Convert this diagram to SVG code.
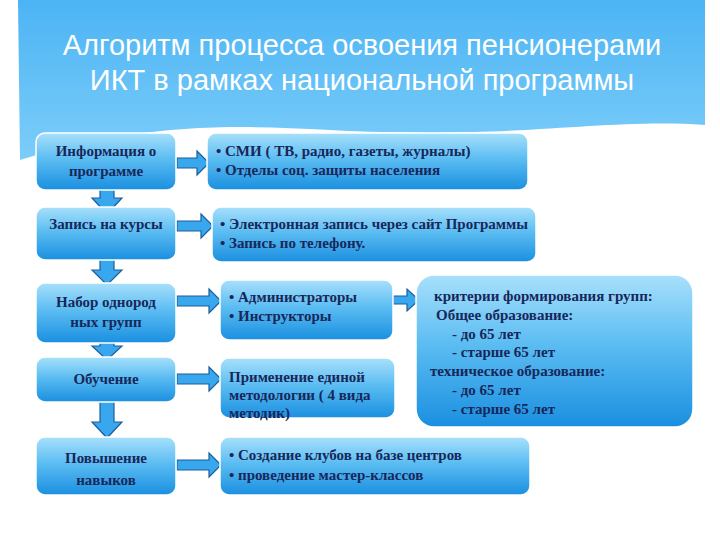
<svg xmlns="http://www.w3.org/2000/svg" width="720" height="540" viewBox="0 0 720 540">
<defs>
<linearGradient id="bg" x1="0" y1="0" x2="0" y2="1"><stop offset="0" stop-color="#a8e0fb"/><stop offset="0.45" stop-color="#5cbdf2"/><stop offset="1" stop-color="#1a8fe0"/></linearGradient>
<linearGradient id="tb" x1="0" y1="0" x2="0" y2="1"><stop offset="0" stop-color="#4cb4f4"/><stop offset="1" stop-color="#7ccdf9"/></linearGradient>
<style>
.box{fill:url(#bg);stroke:#ffffff;stroke-width:1.5}
.t{font-family:"Liberation Serif",serif;font-weight:bold;fill:#17275a;font-size:15px}
.ar{fill:#39a7ee;stroke:#1b5f9a;stroke-width:1.2}
.ti{font-family:"Liberation Sans",sans-serif;fill:#ffffff;font-size:29px;text-anchor:middle}
</style>
</defs>
<rect width="720" height="540" fill="#ffffff"/>
<path d="M18 0 H705 V125 C600 118 520 140 330 130 C200 122 120 130 20 160 Z" fill="url(#tb)"/>
<text class="ti" x="362" y="55">Алгоритм процесса  освоения пенсионерами</text>
<text class="ti" x="362" y="90">ИКТ в рамках  национальной  программы</text>
<g id="connectors">
<path class="ar" d="M100 189 H114 V198 H122 L107 214 L92 198 H100 Z"/>
<path class="ar" d="M100 259 H114 V270 H122 L107 285 L92 270 H100 Z"/>
<path class="ar" d="M100 338 H114 V346 H122 L107 360 L92 346 H100 Z"/>
<path class="ar" d="M100 400 H114 V422 H122 L107 438 L92 422 H100 Z"/>
<path class="ar" d="M177 158 H197 V151 L209 163 L197 175 V168 H177 Z"/>
<path class="ar" d="M177 221 H201 V214 L213 226 L201 238 V231 H177 Z"/>
<path class="ar" d="M177 296 H209 V289 L221 301 L209 313 V306 H177 Z"/>
<path class="ar" d="M177 374 H209 V367 L221 379 L209 391 V384 H177 Z"/>
<path class="ar" d="M177 460 H209 V453 L221 465 L209 477 V470 H177 Z"/>
<path class="ar" d="M393 296 H407 V289 L419 300 L407 311 V304 H393 Z"/>
</g>
<g id="n1"><rect class="box" x="36" y="133" width="140" height="57" rx="9"/>
<text class="t" x="106" y="156" text-anchor="middle">Информация о</text><text class="t" x="106" y="176" text-anchor="middle">программе</text></g>
<g id="n2"><rect class="box" x="36" y="207" width="140" height="53" rx="9"/>
<text class="t" x="106" y="229" text-anchor="middle">Запись на курсы</text></g>
<g id="n3"><rect class="box" x="36" y="283" width="140" height="60" rx="9"/>
<text class="t" x="106" y="307" text-anchor="middle">Набор однород</text><text class="t" x="106" y="327" text-anchor="middle">ных групп</text></g>
<g id="n4"><rect class="box" x="36" y="357" width="140" height="45" rx="9"/>
<text class="t" x="106" y="384" text-anchor="middle">Обучение</text></g>
<g id="n5"><rect class="box" x="36" y="437" width="140" height="58" rx="9"/>
<text class="t" x="106" y="463" text-anchor="middle">Повышение</text><text class="t" x="106" y="485" text-anchor="middle">навыков</text></g>
<g id="r1"><rect class="box" x="207" y="133" width="321" height="57" rx="9"/>
<text class="t" x="216" y="156">•  СМИ ( ТВ, радио, газеты, журналы)</text><text class="t" x="216" y="175">•  Отделы  соц. защиты  населения</text></g>
<g id="r2"><rect class="box" x="212" y="207" width="324" height="55" rx="9"/>
<text class="t" x="220" y="229" font-size="12">• Электронная  запись через сайт Программы</text><text class="t" x="220" y="248" font-size="12">• Запись по телефону.</text></g>
<g id="r3"><rect class="box" x="220" y="280" width="173" height="60" rx="9"/>
<text class="t" x="229" y="302">•  Администраторы</text><text class="t" x="229" y="321">•  Инструкторы</text></g>
<g id="r4"><rect class="box" x="220" y="358" width="175" height="60" rx="9"/>
<text class="t" x="229" y="382">Применение единой</text><text class="t" x="229" y="400">методологии ( 4 вида</text><text class="t" x="229" y="418" font-size="13">методик)</text></g>
<g id="r5"><rect class="box" x="220" y="437" width="310" height="58" rx="9"/>
<text class="t" x="229" y="460">•  Создание клубов  на базе центров</text><text class="t" x="229" y="480">• проведение мастер-классов</text></g>
<g id="r6"><rect class="box" x="416" y="275" width="277" height="152" rx="18"/>
<text class="t" x="434" y="301">критерии   формирования групп:</text>
<text class="t" x="436" y="320">Общее  образование:</text>
<text class="t" x="452" y="339">-  до 65 лет</text>
<text class="t" x="452" y="357">-  старше 65 лет</text>
<text class="t" x="430" y="376">техническое  образование:</text>
<text class="t" x="452" y="395">-  до 65 лет</text>
<text class="t" x="452" y="414">-  старше 65 лет</text></g>
</svg>
